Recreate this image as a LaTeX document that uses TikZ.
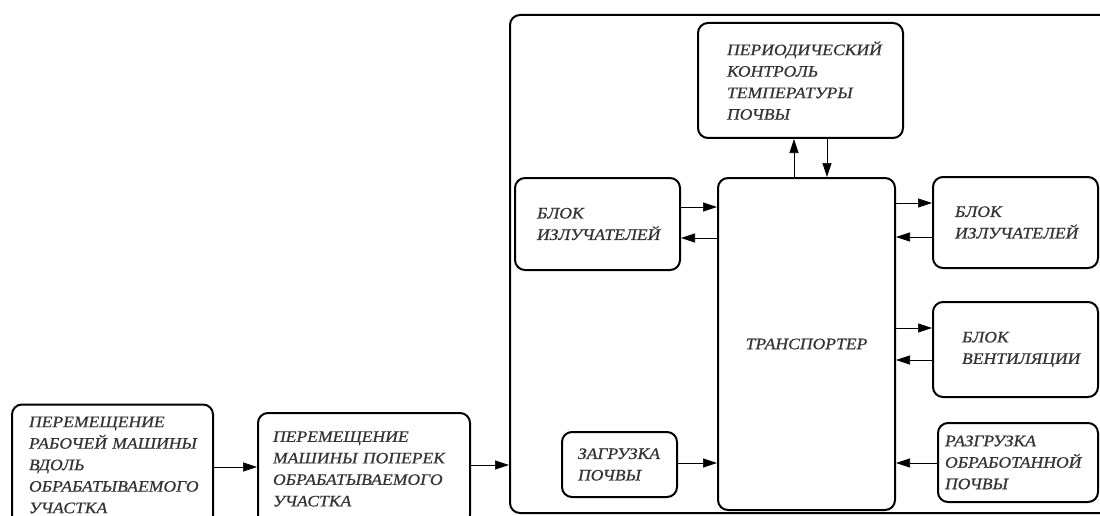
\documentclass[tikz,border=0pt]{standalone}
\usepackage{fontspec}
\setmainfont{Liberation Serif}[FakeStretch=1.1,FakeBold=0.6]
\usetikzlibrary{arrows.meta}

\begin{document}
\begin{tikzpicture}[x=1pt,y=-1pt,
  box/.style={draw, line width=2pt, rounded corners=10pt, align=left, inner sep=0pt,
    text=black!80, font=\fontsize{16}{21.5}\selectfont\itshape},
  arr/.style={line width=0.7pt, -{Triangle[length=14pt,width=9pt]}}]
\useasboundingbox (0,0) rectangle (1100,516);
\clip (0,0) rectangle (1100,516);

\node[box, minimum width=605pt, minimum height=498pt] (outer) at (812.5,264) {};

\node[box, minimum width=201pt, minimum height=121pt, text width=167pt] (move1) at (112.5,465)
  {ПЕРЕМЕЩЕНИЕ\\ РАБОЧЕЙ~МАШИНЫ\\ ВДОЛЬ\\ ОБРАБАТЫВАЕМОГО\\ УЧАСТКА};
\node[box, minimum width=212pt, minimum height=112pt, text width=182pt] (move2) at (364,469)
  {ПЕРЕМЕЩЕНИЕ\\ МАШИНЫ~ПОПЕРЕК\\ ОБРАБАТЫВАЕМОГО\\ УЧАСТКА};
\node[box, minimum width=205pt, minimum height=115pt, text width=147pt] (period) at (800.5,80.5)
  {ПЕРИОДИЧЕСКИЙ\\ КОНТРОЛЬ\\ ТЕМПЕРАТУРЫ\\ ПОЧВЫ};
\node[box, minimum width=177pt, minimum height=332pt] (transp) at (806.5,344) {ТРАНСПОРТЕР};
\node[box, minimum width=165pt, minimum height=92pt, text width=121pt] (rad1) at (597.5,224)
  {БЛОК\\ ИЗЛУЧАТЕЛЕЙ};
\node[box, minimum width=165pt, minimum height=91pt, text width=121pt] (rad2) at (1015.5,222.5)
  {БЛОК\\ ИЗЛУЧАТЕЛЕЙ};
\node[box, minimum width=165pt, minimum height=95pt, text width=107pt] (vent) at (1015.5,349.5)
  {БЛОК\\ ВЕНТИЛЯЦИИ};
\node[box, minimum width=160pt, minimum height=79pt, text width=146pt] (unload) at (1018,462.5)
  {РАЗГРУЗКА\\ ОБРАБОТАННОЙ\\ ПОЧВЫ};
\node[box, minimum width=115pt, minimum height=65pt, text width=83pt] (load) at (619.5,464.5)
  {ЗАГРУЗКА\\ ПОЧВЫ};

\draw[arr] (move1.east |- 0,467) -- (move2.west |- 0,467);
\draw[arr] (move2.east |- 0,465) -- (outer.west |- 0,465);
\draw[arr] (rad1.east |- 0,207) -- (transp.west |- 0,207);
\draw[arr] (transp.west |- 0,238) -- (rad1.east |- 0,238);
\draw[arr] (transp.east |- 0,203) -- (rad2.west |- 0,203);
\draw[arr] (rad2.west |- 0,237) -- (transp.east |- 0,237);
\draw[arr] (transp.east |- 0,328) -- (vent.west |- 0,328);
\draw[arr] (vent.west |- 0,360) -- (transp.east |- 0,360);
\draw[arr] (unload.west |- 0,463) -- (transp.east |- 0,463);
\draw[arr] (load.east |- 0,463) -- (transp.west |- 0,463);
\draw[arr] (transp.north -| 794,0) -- (period.south -| 794,0);
\draw[arr] (period.south -| 827,0) -- (transp.north -| 827,0);
\end{tikzpicture}
\end{document}
